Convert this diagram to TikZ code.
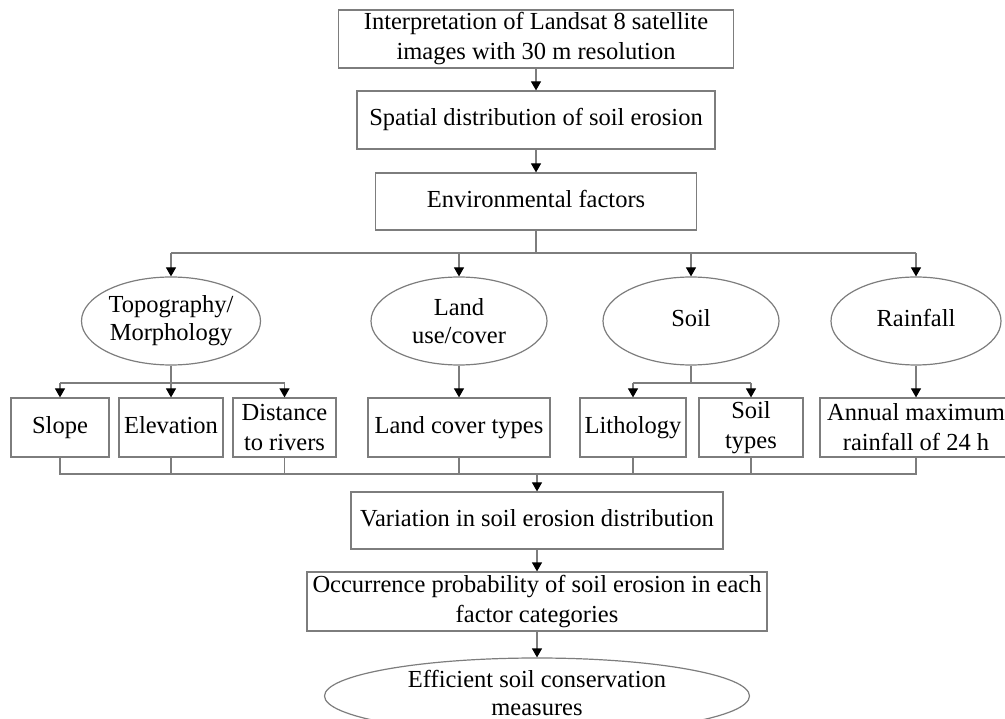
\documentclass[tikz,border=0pt]{standalone}
\usepackage{fontspec}
\setmainfont{Liberation Serif}
\usetikzlibrary{arrows.meta,shapes.geometric}
\definecolor{lg}{RGB}{125,125,125}
\begin{document}
\begin{tikzpicture}[x=1pt,y=-1pt,
  font=\fontsize{24.5}{30}\selectfont,
  box/.style={draw=lg,line width=1.2pt,rectangle,inner sep=0pt,align=center},
  oval/.style={draw=lg,line width=1.2pt,ellipse,inner sep=0pt,align=center,font=\fontsize{24.5}{28}\selectfont},
  oneline/.style={text height=17pt,text depth=5.5pt},
  ln/.style={draw=lg,line width=1.2pt},
  arr/.style={ln,-{Triangle[width=10pt,length=9pt,black]}}]
\useasboundingbox (0,0) rectangle (1005,719);
% main column
\node[box,minimum width=395,minimum height=58] (b1) at (536,39) {Interpretation of Landsat 8 satellite\\images with 30 m resolution};
\node[box,oneline,minimum width=358,minimum height=58] (b2) at (536,120) {Spatial distribution of soil erosion};
\node[box,oneline,minimum width=321,minimum height=57] (b3) at (536,201.5) {Environmental factors};
% factor ellipses
\node[oval,minimum width=179,minimum height=88] (topo) at (171,321) {Topography/\\Morphology};
\node[oval,minimum width=176,minimum height=88] (land) at (459,321) {Land\\use/cover};
\node[oval,oneline,minimum width=176,minimum height=88] (soil) at (691,321) {Soil};
\node[oval,oneline,minimum width=170,minimum height=88] (rain) at (916,321) {Rainfall};
% sub factor boxes
\node[box,oneline,minimum width=98,minimum height=59] (slope) at (60,427.5) {Slope};
\node[box,oneline,minimum width=104,minimum height=59] (elev) at (171,427.5) {Elevation};
\node[box,minimum width=103,minimum height=59] (dist) at (284.5,427.5) {Distance\\to rivers};
\node[box,oneline,minimum width=182,minimum height=59] (lcover) at (459,427.5) {Land cover types};
\node[box,oneline,minimum width=106,minimum height=59] (litho) at (633,427.5) {Lithology};
\node[box,minimum width=104,minimum height=59] (stypes) at (751,427.5) {Soil\\types};
\node[box,minimum width=192,minimum height=59] (annual) at (916,427.5) {Annual maximum\\rainfall of 24 h};
% lower column
\node[box,oneline,minimum width=372,minimum height=57] (var) at (537,520.5) {Variation in soil erosion distribution};
\node[box,minimum width=460,minimum height=59] (occ) at (537,601.5) {Occurrence probability of soil erosion in each\\factor categories};
\node[oval,minimum width=425,minimum height=76,text depth=7pt] (eff) at (537,696) {Efficient soil conservation\\measures};
% connectors
\draw[arr] (b1) -- (b2);
\draw[arr] (b2) -- (b3);
\coordinate (j1) at (536,253);
\draw[ln] (b3.south) -- (j1);
\draw[ln] (topo.north |- j1) -- (rain.north |- j1);
\foreach \n in {topo,land,soil,rain} \draw[arr] (\n.north |- j1) -- (\n.north);
\coordinate (j2) at (171,383);
\draw[ln] (topo.south) -- (j2);
\draw[ln] (slope.north |- j2) -- (dist.north |- j2);
\foreach \n in {slope,elev,dist} \draw[arr] (\n.north |- j2) -- (\n.north);
\draw[arr] (land.south) -- (lcover.north);
\coordinate (j3) at (691,383);
\draw[ln] (soil.south) -- (j3);
\draw[ln] (litho.north |- j3) -- (stypes.north |- j3);
\foreach \n in {litho,stypes} \draw[arr] (\n.north |- j3) -- (\n.north);
\draw[arr] (rain.south) -- (annual.north);
\coordinate (j4) at (537,474);
\draw[ln] (slope.south) -- (slope.south |- j4) -- (annual.south |- j4) -- (annual.south);
\foreach \n in {elev,dist,lcover,litho,stypes} \draw[ln] (\n.south) -- (\n.south |- j4);
\draw[arr] (j4) -- (var.north);
\draw[arr] (var) -- (occ);
\draw[arr] (occ) -- (eff);
\end{tikzpicture}
\end{document}
